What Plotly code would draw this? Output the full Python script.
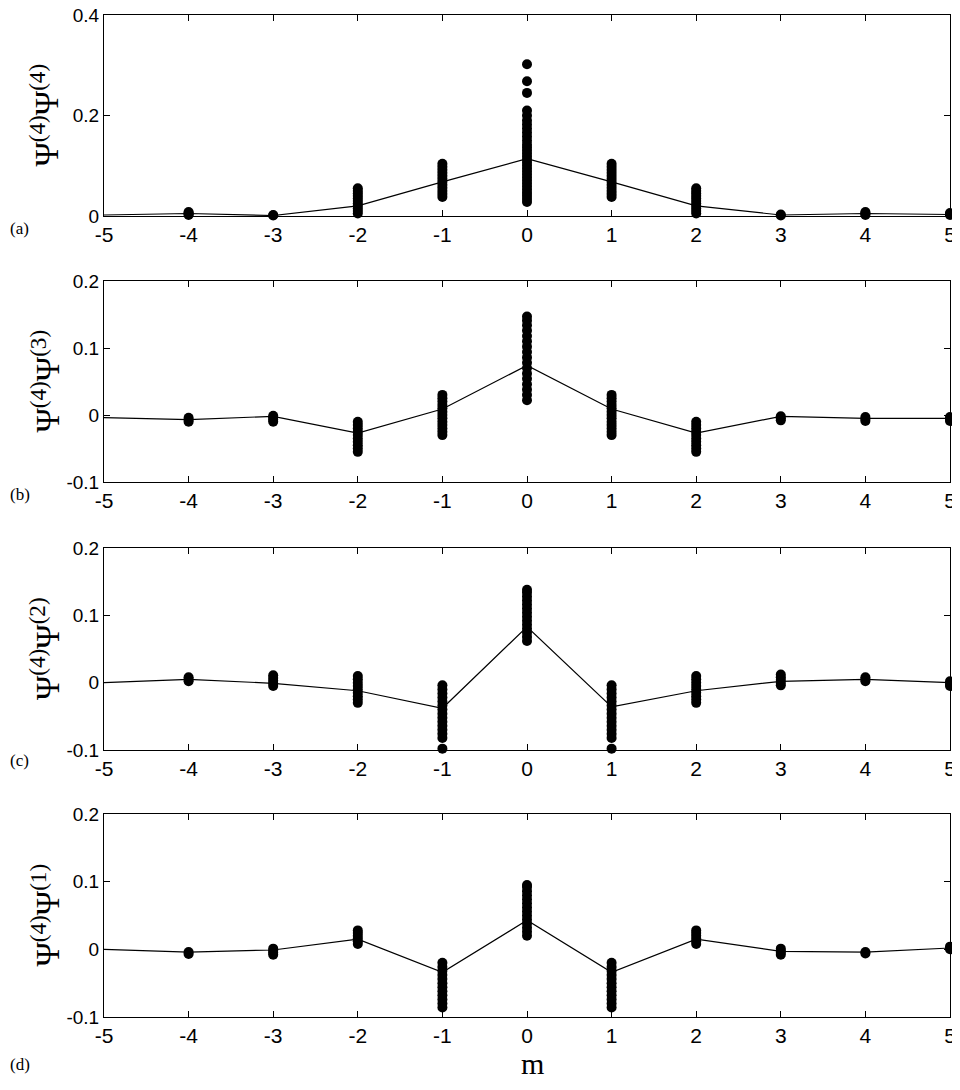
import plotly.graph_objects as go

m = [-5, -4, -3, -2, -1, 0, 1, 2, 3, 4, 5]

# connecting-line values (panel a..d)
line_a = [0.002, 0.005, 0.001, 0.02, 0.068, 0.114, 0.068, 0.02, 0.002, 0.005, 0.003]
line_b = [-0.004, -0.007, -0.002, -0.027, 0.009, 0.074, 0.009, -0.027, -0.002, -0.005, -0.005]
line_c = [0.0, 0.005, -0.001, -0.012, -0.038, 0.083, -0.036, -0.012, 0.002, 0.005, 0.0]
line_d = [0.0, -0.004, -0.001, 0.015, -0.034, 0.043, -0.034, 0.015, -0.003, -0.004, 0.002]

# scattered dots for each m (panel a..d)
dots_a = {
    -4: [0.002, 0.004, 0.006, 0.008],
    -3: [0.001, 0.002],
    -2: [0.005, 0.01, 0.015, 0.02, 0.025, 0.03, 0.035, 0.04, 0.045, 0.05, 0.055],
    -1: [0.038, 0.044, 0.05, 0.056, 0.062, 0.068, 0.074, 0.08, 0.086, 0.092, 0.098, 0.104],
    0: [0.028, 0.034, 0.04, 0.046, 0.052, 0.058, 0.064, 0.07, 0.076, 0.082, 0.088, 0.094,
        0.1, 0.106, 0.112, 0.118, 0.124, 0.13, 0.136, 0.142, 0.15, 0.158, 0.166, 0.174,
        0.182, 0.19, 0.2, 0.21, 0.245, 0.268, 0.302],
    1: [0.038, 0.044, 0.05, 0.056, 0.062, 0.068, 0.074, 0.08, 0.086, 0.092, 0.098, 0.104],
    2: [0.005, 0.01, 0.015, 0.02, 0.025, 0.03, 0.035, 0.04, 0.045, 0.05, 0.055],
    3: [0.001, 0.003],
    4: [0.002, 0.004, 0.006, 0.008],
    5: [0.002, 0.004, 0.006],
}
dots_b = {
    -4: [-0.01, -0.007, -0.004],
    -3: [-0.01, -0.007, -0.004, -0.001],
    -2: [-0.055, -0.05, -0.045, -0.04, -0.035, -0.03, -0.025, -0.02, -0.015, -0.01],
    -1: [-0.03, -0.025, -0.02, -0.015, -0.01, -0.005, 0.0, 0.005, 0.01, 0.015, 0.02, 0.025, 0.03],
    0: [0.022, 0.03, 0.038, 0.046, 0.054, 0.062, 0.07, 0.078, 0.086, 0.094, 0.102, 0.11,
        0.118, 0.126, 0.134, 0.141, 0.147],
    1: [-0.03, -0.025, -0.02, -0.015, -0.01, -0.005, 0.0, 0.005, 0.01, 0.015, 0.02, 0.025, 0.03],
    2: [-0.055, -0.05, -0.045, -0.04, -0.035, -0.03, -0.025, -0.02, -0.015, -0.01],
    3: [-0.008, -0.005, -0.002],
    4: [-0.009, -0.006, -0.003],
    5: [-0.009, -0.006, -0.003],
}
dots_c = {
    -4: [0.002, 0.005, 0.008],
    -3: [-0.005, -0.001, 0.003, 0.007, 0.011],
    -2: [-0.03, -0.025, -0.02, -0.015, -0.01, -0.005, 0.0, 0.005, 0.01],
    -1: [-0.098, -0.082, -0.076, -0.07, -0.064, -0.058, -0.052, -0.046, -0.04, -0.034,
         -0.028, -0.022, -0.016, -0.01, -0.004],
    0: [0.062, 0.068, 0.074, 0.08, 0.086, 0.092, 0.098, 0.104, 0.11, 0.116, 0.122, 0.128,
        0.134, 0.138],
    1: [-0.098, -0.082, -0.076, -0.07, -0.064, -0.058, -0.052, -0.046, -0.04, -0.034,
        -0.028, -0.022, -0.016, -0.01, -0.004],
    2: [-0.03, -0.025, -0.02, -0.015, -0.01, -0.005, 0.0, 0.005, 0.01],
    3: [-0.004, 0.0, 0.004, 0.008, 0.012],
    4: [0.002, 0.005, 0.008],
    5: [-0.005, -0.002, 0.002],
}
dots_d = {
    -4: [-0.007, -0.004],
    -3: [-0.008, -0.005, -0.002, 0.001],
    -2: [0.008, 0.012, 0.016, 0.02, 0.024, 0.028],
    -1: [-0.086, -0.08, -0.074, -0.068, -0.062, -0.056, -0.05, -0.044, -0.038, -0.032,
         -0.026, -0.02],
    0: [0.02, 0.026, 0.032, 0.038, 0.044, 0.05, 0.056, 0.062, 0.068, 0.074, 0.08, 0.086,
        0.092, 0.095],
    1: [-0.086, -0.08, -0.074, -0.068, -0.062, -0.056, -0.05, -0.044, -0.038, -0.032,
        -0.026, -0.02],
    2: [0.008, 0.012, 0.016, 0.02, 0.024, 0.028],
    3: [-0.008, -0.005, -0.002, 0.001],
    4: [-0.006, -0.004],
    5: [0.0, 0.002, 0.004],
}

y_titles = ["Ψ<sup>(4)</sup>Ψ<sup>(4)</sup>", "Ψ<sup>(4)</sup>Ψ<sup>(3)</sup>",
            "Ψ<sup>(4)</sup>Ψ<sup>(2)</sup>", "Ψ<sup>(4)</sup>Ψ<sup>(1)</sup>"]
panel_tags = ["(a)", "(b)", "(c)", "(d)"]
y_ranges = [[0, 0.4], [-0.1, 0.2], [-0.1, 0.2], [-0.1, 0.2]]
y_ticks = [[0, 0.2, 0.4], [-0.1, 0, 0.1, 0.2], [-0.1, 0, 0.1, 0.2], [-0.1, 0, 0.1, 0.2]]
y_ticktext = [["0", "0.2", "0.4"], ["-0.1", "0", "0.1", "0.2"],
              ["-0.1", "0", "0.1", "0.2"], ["-0.1", "0", "0.1", "0.2"]]
x_ticks = [-5, -4, -3, -2, -1, 0, 1, 2, 3, 4, 5]
x_ticktext = ["-5", "-4", "-3", "-2", "-1", "0", "1", "2", "3", "4", "5"]

# page body has an 8px margin: figure is 944x1074 so the page is exactly 960x1090
OFF = 8
W, H = 960 - 2 * OFF, 1090 - 2 * OFF
# panel pixel boxes in page coordinates (top, bottom)
boxes = [(15, 216), (281, 482), (548, 750), (814, 1017)]
tag_y = [228, 494, 760, 1064]
x_left, x_right = 104, 950

def px(xp):
    return (xp - OFF) / W

def py(yp):
    return 1 - (yp - OFF) / H

lines = [line_a, line_b, line_c, line_d]
dots = [dots_a, dots_b, dots_c, dots_d]

fig = go.Figure()
layout = {}
annotations = []
xtick_font = dict(family="Liberation Sans Narrow, Liberation Sans, Arial", size=21, color="black")
ytick_font = dict(family="Liberation Sans, Arial", size=19, color="black")
serif = "Liberation Serif, Times New Roman, serif"

for i in range(4):
    n = "" if i == 0 else str(i + 1)
    xa, ya = "x" + n, "y" + n
    dx, dy = [], []
    for k, vals in dots[i].items():
        for v in vals:
            dx.append(k)
            dy.append(v)
    fig.add_trace(go.Scatter(x=m, y=lines[i], mode="lines",
                             line=dict(color="black", width=1.2),
                             xaxis=xa, yaxis=ya, showlegend=False, cliponaxis=False))
    fig.add_trace(go.Scatter(x=dx, y=dy, mode="markers",
                             marker=dict(color="black", size=10, line=dict(width=0)),
                             xaxis=xa, yaxis=ya, showlegend=False, cliponaxis=False))
    top, bot = boxes[i]
    layout["xaxis" + n] = dict(
        domain=[px(x_left), min(1.0, px(x_right))], anchor=ya, range=[-5, 5],
        tickmode="array", tickvals=x_ticks, ticktext=x_ticktext, ticks="inside", ticklen=6,
        tickcolor="black", showline=True, linecolor="black", linewidth=1,
        mirror="ticks", showgrid=False, zeroline=False, tickfont=xtick_font,
        automargin=False, ticklabeloverflow="allow",
    )
    layout["yaxis" + n] = dict(
        domain=[py(bot), py(top)], anchor=xa, range=y_ranges[i],
        tickmode="array", tickvals=y_ticks[i], ticktext=y_ticktext[i],
        ticks="inside", ticklen=6, tickcolor="black", showline=True,
        linecolor="black", linewidth=1, mirror="ticks", showgrid=False,
        zeroline=False, tickfont=ytick_font, automargin=False,
        ticklabeloverflow="allow",
    )
    annotations.append(dict(text=y_titles[i], x=px(45), y=py((top + bot) / 2),
                            xref="paper", yref="paper", textangle=-90, showarrow=False,
                            font=dict(family=serif, size=33, color="black"),
                            xanchor="center", yanchor="middle"))
    annotations.append(dict(text=panel_tags[i], x=0, y=py(tag_y[i]),
                            xref="paper", yref="paper", showarrow=False,
                            font=dict(family=serif, size=17, color="black"),
                            xanchor="left", yanchor="middle"))

annotations.append(dict(text="m", x=px(532), y=0, xref="paper", yref="paper",
                        showarrow=False, font=dict(family=serif, size=30, color="black"),
                        xanchor="center", yanchor="bottom"))

fig.update_layout(**layout)
fig.update_layout(width=W, height=H, margin=dict(l=0, r=0, t=0, b=0, autoexpand=False),
                  paper_bgcolor="white", plot_bgcolor="white", template="none",
                  annotations=annotations)

fig.write_html("out.html")
